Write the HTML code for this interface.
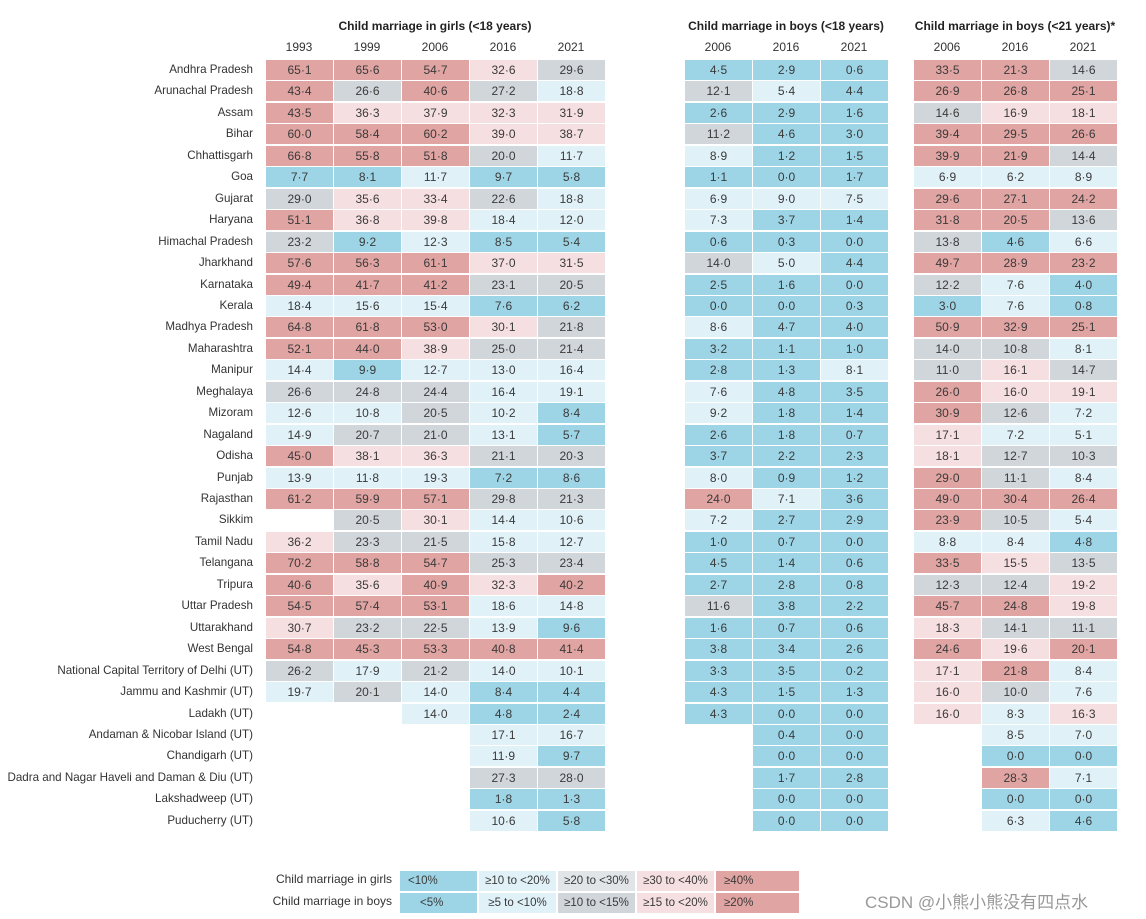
<!DOCTYPE html>
<html><head><meta charset="utf-8">
<style>
body{margin:0;background:#fff;width:1146px;height:919px;overflow:hidden;position:relative;font-family:"Liberation Sans","Noto Sans CJK SC",sans-serif;color:#333}
.t{position:absolute;white-space:nowrap}
.lab{position:absolute;right:893px;font-size:11.6px;text-align:right;white-space:nowrap;line-height:20px}
.cell{position:absolute;height:20px;line-height:20px;text-align:center;font-size:12px;color:#3a3a3a}
.title{font-weight:bold;font-size:12px;text-align:center;color:#222}
.yr{font-size:12px;text-align:center;width:68px;color:#333}
</style></head><body>
<div id="root"></div>
<div class="t" style="left:865px;top:888px;font-size:17px;color:#999">CSDN @小熊小熊没有四点水</div>
<script>
const states=["Andhra Pradesh","Arunachal Pradesh","Assam","Bihar","Chhattisgarh","Goa","Gujarat","Haryana","Himachal Pradesh","Jharkhand","Karnataka","Kerala","Madhya Pradesh","Maharashtra","Manipur","Meghalaya","Mizoram","Nagaland","Odisha","Punjab","Rajasthan","Sikkim","Tamil Nadu","Telangana","Tripura","Uttar Pradesh","Uttarakhand","West Bengal","National Capital Territory of Delhi (UT)","Jammu and Kashmir (UT)","Ladakh (UT)","Andaman & Nicobar Island (UT)","Chandigarh (UT)","Dadra and Nagar Haveli and Daman & Diu (UT)","Lakshadweep (UT)","Puducherry (UT)"];
const girlYears=["1993","1999","2006","2016","2021"];
const boyYears=["2006","2016","2021"];
const girls=[[65.1,65.6,54.7,32.6,29.6],[43.4,26.6,40.6,27.2,18.8],[43.5,36.3,37.9,32.3,31.9],[60.0,58.4,60.2,39.0,38.7],[66.8,55.8,51.8,20.0,11.7],[7.7,8.1,11.7,9.7,5.8],[29.0,35.6,33.4,22.6,18.8],[51.1,36.8,39.8,18.4,12.0],[23.2,9.2,12.3,8.5,5.4],[57.6,56.3,61.1,37.0,31.5],[49.4,41.7,41.2,23.1,20.5],[18.4,15.6,15.4,7.6,6.2],[64.8,61.8,53.0,30.1,21.8],[52.1,44.0,38.9,25.0,21.4],[14.4,9.9,12.7,13.0,16.4],[26.6,24.8,24.4,16.4,19.1],[12.6,10.8,20.5,10.2,8.4],[14.9,20.7,21.0,13.1,5.7],[45.0,38.1,36.3,21.1,20.3],[13.9,11.8,19.3,7.2,8.6],[61.2,59.9,57.1,29.8,21.3],[null,20.5,30.1,14.4,10.6],[36.2,23.3,21.5,15.8,12.7],[70.2,58.8,54.7,25.3,23.4],[40.6,35.6,40.9,32.3,40.2],[54.5,57.4,53.1,18.6,14.8],[30.7,23.2,22.5,13.9,9.6],[54.8,45.3,53.3,40.8,41.4],[26.2,17.9,21.2,14.0,10.1],[19.7,20.1,14.0,8.4,4.4],[null,null,14.0,4.8,2.4],[null,null,null,17.1,16.7],[null,null,null,11.9,9.7],[null,null,null,27.3,28.0],[null,null,null,1.8,1.3],[null,null,null,10.6,5.8]];
const boys18=[[4.5,2.9,0.6],[12.1,5.4,4.4],[2.6,2.9,1.6],[11.2,4.6,3.0],[8.9,1.2,1.5],[1.1,0.0,1.7],[6.9,9.0,7.5],[7.3,3.7,1.4],[0.6,0.3,0.0],[14.0,5.0,4.4],[2.5,1.6,0.0],[0.0,0.0,0.3],[8.6,4.7,4.0],[3.2,1.1,1.0],[2.8,1.3,8.1],[7.6,4.8,3.5],[9.2,1.8,1.4],[2.6,1.8,0.7],[3.7,2.2,2.3],[8.0,0.9,1.2],[24.0,7.1,3.6],[7.2,2.7,2.9],[1.0,0.7,0.0],[4.5,1.4,0.6],[2.7,2.8,0.8],[11.6,3.8,2.2],[1.6,0.7,0.6],[3.8,3.4,2.6],[3.3,3.5,0.2],[4.3,1.5,1.3],[4.3,0.0,0.0],[null,0.4,0.0],[null,0.0,0.0],[null,1.7,2.8],[null,0.0,0.0],[null,0.0,0.0]];
const boys21=[[33.5,21.3,14.6],[26.9,26.8,25.1],[14.6,16.9,18.1],[39.4,29.5,26.6],[39.9,21.9,14.4],[6.9,6.2,8.9],[29.6,27.1,24.2],[31.8,20.5,13.6],[13.8,4.6,6.6],[49.7,28.9,23.2],[12.2,7.6,4.0],[3.0,7.6,0.8],[50.9,32.9,25.1],[14.0,10.8,8.1],[11.0,16.1,14.7],[26.0,16.0,19.1],[30.9,12.6,7.2],[17.1,7.2,5.1],[18.1,12.7,10.3],[29.0,11.1,8.4],[49.0,30.4,26.4],[23.9,10.5,5.4],[8.8,8.4,4.8],[33.5,15.5,13.5],[12.3,12.4,19.2],[45.7,24.8,19.8],[18.3,14.1,11.1],[24.6,19.6,20.1],[17.1,21.8,8.4],[16.0,10.0,7.6],[16.0,8.3,16.3],[null,8.5,7.0],[null,0.0,0.0],[null,28.3,7.1],[null,0.0,0.0],[null,6.3,4.6]];
const girlThresh=[10,20,30,40];
const boyThresh=[5,10,15,20];
const legendGirls=["<10%","≥10 to <20%","≥20 to <30%","≥30 to <40%","≥40%"];
const legendBoys=["<5%","≥5 to <10%","≥10 to <15%","≥15 to <20%","≥20%"];
const colors=["#9dd5e6","#e0f1f8","#d0d6da","#f6dfe0","#e0a4a2"];
const root=document.getElementById('root');
const rowY=i=>60+i*21.45;
function colorFor(v,th){let k=0;while(k<th.length&&v>=th[k])k++;return colors[k];}
function fmt(v){return v.toFixed(1).replace('.','·');}
function add(cls,x,y,w,txt,name,style){const d=document.createElement('div');d.className=cls;d.style.left=x+'px';d.style.top=y+'px';if(w)d.style.width=w+'px';d.textContent=txt;if(style)Object.assign(d.style,style);


root.appendChild(d);return d;}
states.forEach((s,i)=>{const d=document.createElement('div');d.className='lab';d.style.top=rowY(i)+'px';d.textContent=s;


root.appendChild(d);});
function block(data,years,x0,th,title,key){
 add('t title',x0,19,years.length*68,'','title-'+key).innerHTML=title;
 years.forEach((y,j)=>add('t yr',x0+j*68,40,68,y,'year-header'));
 data.forEach((row,i)=>row.forEach((v,j)=>{if(v===null)return;
  add('cell',x0+j*68+1,rowY(i),67,fmt(v),'cell-'+key,{background:colorFor(v,th)});}));
}
block(girls,girlYears,265,girlThresh,'Child marriage in girls (&lt;18 years)','girls');
block(boys18,boyYears,684,boyThresh,'Child marriage in boys (&lt;18 years)','boys18');
block(boys21,boyYears,913,boyThresh,'Child marriage in boys (&lt;21 years)*','boys21');
add('t',0,872,0,'Child marriage in girls','legend-label-girls',{right:'754px',left:'auto',fontSize:'12px',textAlign:'right'});
add('t',0,894,0,'Child marriage in boys','legend-label-boys',{right:'754px',left:'auto',fontSize:'12px',textAlign:'right'});
const lx=[400,479,558,637,716],lw=[78,78,78,78,84];
[legendGirls,legendBoys].forEach((arr,r)=>arr.forEach((t,k)=>{
 let bg=colors[k]; if(r==0&&k==2)bg='#e2e5e8';
 const left=(k==0||k==4);
 add('cell',lx[k],871+r*22,lw[k]-1,t,'legend-entry',{background:bg,fontSize:'11.5px',textAlign:left?'left':'center',paddingLeft:left?(k==0&&r?'20px':'8px'):'0',boxSizing:'border-box',width:(lw[k]-1)+'px'});
}));
</script>
</body></html>
